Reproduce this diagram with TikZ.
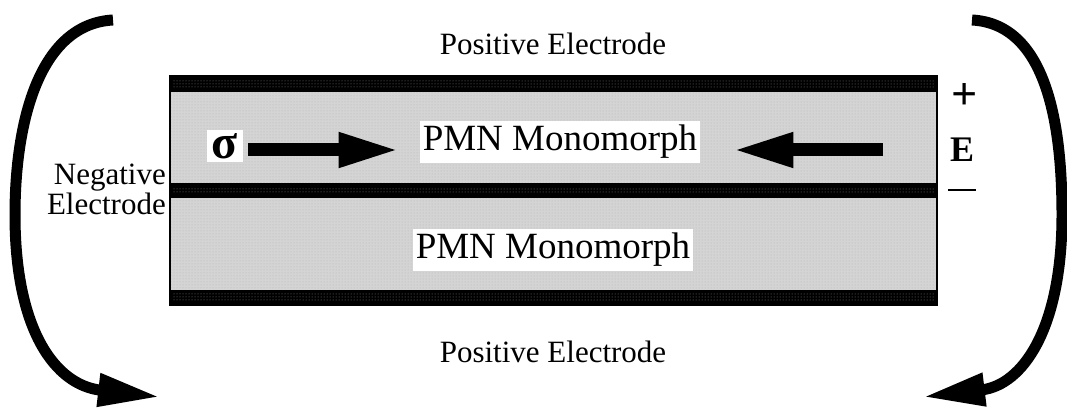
\documentclass[tikz,border=0pt]{standalone}
\usepackage{fontspec}
\setmainfont{Liberation Serif}
\usetikzlibrary{arrows.meta,patterns}
\begin{document}
\begin{tikzpicture}[x=1pt,y=-1pt,
  layer/.style={fill=black!17},
  electrode/.style={fill=black},
  lbl/.style={font=\fontsize{31}{31}\selectfont, inner sep=0pt},
  pmn/.style={font=\fontsize{37}{37}\selectfont, fill=white, inner xsep=3pt, inner ysep=4pt},
  sym/.style={font=\bfseries\fontsize{36}{36}\selectfont, inner sep=0pt},
  stressarrow/.style={line width=13pt, -{Triangle[length=61pt,width=32pt]}},
  looparrow/.style={line width=11pt, -{Triangle[length=62pt,width=31pt]}}
]
\useasboundingbox (0,0) rectangle (1067,411);

% stacked monomorph layers with electrodes
\fill[layer] (170,92) rectangle (937,183);
\fill[layer] (170,198) rectangle (937,290);
\fill[pattern=dots, pattern color=black!30] (170,92) rectangle (937,183);
\fill[pattern=dots, pattern color=black!30] (170,198) rectangle (937,290);
\foreach \ya/\yb in {76/92, 183/198, 290/305}{
  \fill[electrode] (170,\ya) rectangle (937,\yb);
  \fill[pattern=dots, pattern color=black!50] (172,\ya+4) rectangle (935,\yb-4);
}
\draw[line width=2pt] (170,76) rectangle (937,305);

% labels
\node[lbl] (ptop) at (553,44) {Positive Electrode};
\node[lbl] (pbot) at (553,352) {Positive Electrode};
\node[lbl, anchor=east] (neg1) at (166,178) {Negative};
\node[lbl, anchor=east] (neg2) at (166,204) {Electrode};
\node[pmn] (m1) at (560,142) {PMN Monomorph};
\node[pmn] (m2) at (553,250) {PMN Monomorph};
\node[sym, font=\bfseries\fontsize{48}{48}\selectfont, fill=white, inner xsep=5pt, inner ysep=3pt] (sig) at (225,146) {σ};
\node[sym, font=\bfseries\fontsize{46}{46}\selectfont] (plus) at (965,97) {+};
\node[sym] (ef) at (962,150) {E};
\node[sym] (minus) at (962,190) {\rule{28pt}{2.5pt}};

% stress arrows
\coordinate (rs) at (883,150);
\draw[stressarrow] (248,150) -- ([xshift=-20pt]m1.west |- rs);
\draw[stressarrow] (rs) -- ([xshift=32pt]m1.east |- rs);

% circuit loops
\coordinate (la) at (113,20);
\coordinate (lb) at (160,397);
\coordinate (ra) at (972,20);
\coordinate (rb) at (923,397);
\draw[looparrow] (la) .. controls (40,24) and (15,120) .. (15,215)
  .. controls (15,330) and (55,385) .. (lb);
\draw[looparrow] (ra) .. controls (1045,24) and (1062,120) .. (1062,215)
  .. controls (1062,330) and (1022,385) .. (rb);
\end{tikzpicture}
\end{document}
